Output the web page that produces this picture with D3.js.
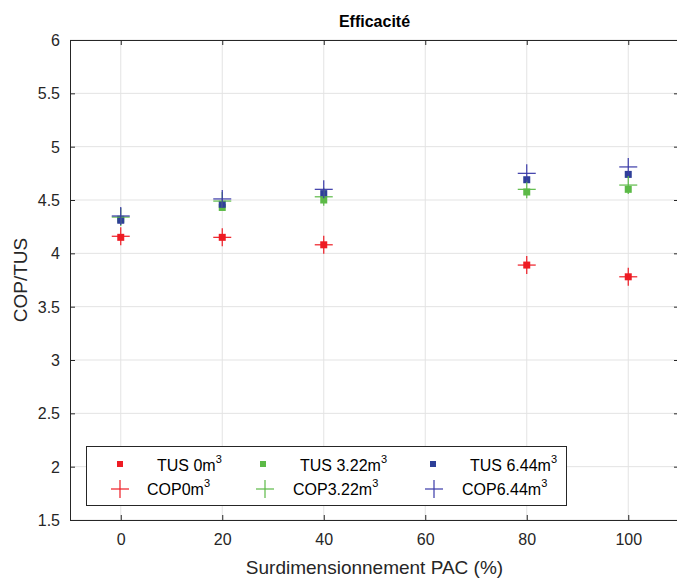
<!DOCTYPE html>
<html>
<head>
<meta charset="utf-8">
<script src="https://cdn.jsdelivr.net/npm/d3@7"></script>
<style>
  body { margin: 0; background: #fff; }
  svg { font-family: "Liberation Sans", Arial, sans-serif; }
</style>
</head>
<body>
<div id="chart"></div>
<script>
var width = 677, height = 581;
var margin = {left: 70, right: 679, top: 40, bottom: 520};

// data
var surdim = [0, 20, 40, 80, 100];
var tus0 = [4.15, 4.15, 4.08, 3.89, 3.78];
var cop0 = [4.16, 4.15, 4.08, 3.89, 3.78];
var tus322 = [4.32, 4.43, 4.50, 4.575, 4.60];
var cop322 = [4.34, 4.49, 4.53, 4.60, 4.64];
var tus644 = [4.31, 4.46, 4.56, 4.69, 4.74];
var cop644 = [4.35, 4.51, 4.60, 4.75, 4.81];
var xTicks = [0, 20, 40, 60, 80, 100];
var yTicks = [1.5, 2, 2.5, 3, 3.5, 4, 4.5, 5, 5.5, 6];

var red = "#ee1c24", green = "#5cba47", blue = "#2e3f98", bluePlus = "#3a3aa8";

var series = [
  {name: "TUS 0", vals: tus0, kind: "sq", color: red},
  {name: "TUS 3.22", vals: tus322, kind: "sq", color: green},
  {name: "TUS 6.44", vals: tus644, kind: "sq", color: blue},
  {name: "COP 0", vals: cop0, kind: "plus", color: red},
  {name: "COP 3.22", vals: cop322, kind: "plus", color: green},
  {name: "COP 6.44", vals: cop644, kind: "plus", color: bluePlus}
];

var x = d3.scaleLinear().domain([-10, 110]).range([margin.left, margin.right]);
var y = d3.scaleLinear().domain([1.5, 6]).range([margin.bottom, margin.top]);

var svg = d3.select("#chart").append("svg")
  .attr("width", width).attr("height", height);

// grid
svg.append("g").selectAll("line.gx").data(xTicks).enter().append("line")
  .attr("x1", function(d) { return x(d); }).attr("x2", function(d) { return x(d); })
  .attr("y1", margin.top).attr("y2", margin.bottom)
  .attr("stroke", "#e3e3e3").attr("stroke-width", 1);
svg.append("g").selectAll("line.gy").data(yTicks).enter().append("line")
  .attr("y1", function(d) { return y(d); }).attr("y2", function(d) { return y(d); })
  .attr("x1", margin.left).attr("x2", margin.right)
  .attr("stroke", "#e3e3e3").attr("stroke-width", 1);

// axes
var xAxis = d3.axisBottom(x).tickValues(xTicks).tickSize(-5).tickPadding(14);
var yAxis = d3.axisLeft(y).tickValues(yTicks).tickSize(-5).tickPadding(10).tickFormat(d3.format("~g"));

var gx = svg.append("g").attr("transform", "translate(0," + margin.bottom + ")").call(xAxis);
var gy = svg.append("g").attr("transform", "translate(" + margin.left + ",0)").call(yAxis);
var gxTop = svg.append("g").attr("transform", "translate(0," + margin.top + ")")
  .call(d3.axisTop(x).tickValues(xTicks).tickSize(-5).tickFormat(""));
var gyRight = svg.append("g").attr("transform", "translate(" + margin.right + ",0)")
  .call(d3.axisRight(y).tickValues(yTicks).tickSize(-5).tickFormat(""));

[gx, gy, gxTop, gyRight].forEach(function(g) {
  g.select(".domain").attr("stroke", "#262626").attr("stroke-width", 1);
  g.selectAll(".tick line").attr("stroke", "#262626");
  g.selectAll(".tick text").attr("fill", "#262626").style("font-size", "16px")
    .style("font-family", "Liberation Sans, Arial, sans-serif");
});
gy.selectAll(".tick text").attr("dy", "0.35em");

// title and labels
svg.append("text").attr("x", (margin.left + margin.right) / 2).attr("y", 27)
  .attr("text-anchor", "middle").style("font-size", "16px").style("font-weight", "bold")
  .attr("fill", "#000").text("Efficacité");
svg.append("text").attr("x", (margin.left + margin.right) / 2).attr("y", 574)
  .attr("text-anchor", "middle").style("font-size", "19px").attr("fill", "#262626")
  .text("Surdimensionnement PAC (%)");
svg.append("text").attr("transform", "translate(27," + (margin.top + margin.bottom) / 2 + ") rotate(-90)")
  .attr("text-anchor", "middle").style("font-size", "19px").attr("fill", "#262626")
  .text("COP/TUS");

// markers
function drawMarker(g, kind, color, cx, cy) {
  if (kind === "sq") {
    g.append("rect").attr("x", cx - 3.5).attr("y", cy - 3.5)
      .attr("width", 7).attr("height", 7).attr("fill", color);
  } else {
    g.append("line").attr("x1", cx - 9).attr("x2", cx + 9).attr("y1", cy).attr("y2", cy)
      .attr("stroke", color).attr("stroke-width", 1.2);
    g.append("line").attr("x1", cx).attr("x2", cx).attr("y1", cy - 9).attr("y2", cy + 9)
      .attr("stroke", color).attr("stroke-width", 1.2);
  }
}

var marks = svg.append("g");
series.forEach(function(s) {
  var g = marks.append("g");
  s.vals.forEach(function(v, i) {
    drawMarker(g, s.kind, s.color, x(surdim[i]), y(v));
  });
});

// legend
var leg = svg.append("g");
leg.append("rect").attr("x", 86.5).attr("y", 446.5).attr("width", 480).attr("height", 59)
  .attr("fill", "#fff").attr("stroke", "#262626").attr("stroke-width", 1);

var legItems = [
  {s: series[0], mx: 120, tx: 157, row: 0, label: "TUS 0m"},
  {s: series[1], mx: 263, tx: 300, row: 0, label: "TUS 3.22m"},
  {s: series[2], mx: 433, tx: 470, row: 0, label: "TUS 6.44m"},
  {s: series[3], mx: 120, tx: 147, row: 1, label: "COP0m"},
  {s: series[4], mx: 265, tx: 293, row: 1, label: "COP3.22m"},
  {s: series[5], mx: 434, tx: 462, row: 1, label: "COP6.44m"}
];
legItems.forEach(function(it) {
  var cy = it.row === 0 ? 465 : 489;
  if (it.s.kind === "sq") {
    leg.append("rect").attr("x", it.mx - 3).attr("y", cy - 4).attr("width", 6).attr("height", 6)
      .attr("fill", it.s.color);
  } else {
    drawMarker(leg, "plus", it.s.color, it.mx, cy);
  }
  var t = leg.append("text").attr("x", it.tx).attr("y", cy + 6)
    .style("font-size", "16px").attr("fill", "#000").text(it.label);
  t.append("tspan").attr("dy", -8).style("font-size", "11px").text("3");
});
</script>
</body>
</html>
